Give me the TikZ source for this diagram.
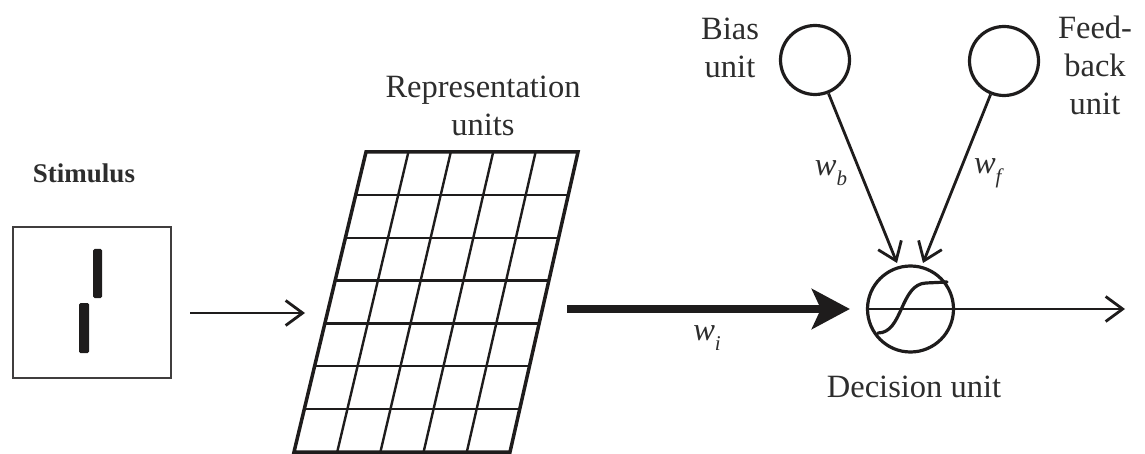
\documentclass[tikz,border=0pt]{standalone}
\usepackage{fontspec}
\setmainfont{Liberation Serif}
\usetikzlibrary{arrows.meta}
\definecolor{ink}{RGB}{30,28,28}
\definecolor{txt}{RGB}{45,45,45}
\newcommand\wsub[2]{\textit{#1}\raisebox{-0.32em}{\fontsize{21}{21}\selectfont\textit{#2}}}
\begin{document}
\begin{tikzpicture}[x=1pt,y=-1pt,
  lbl/.style={font=\fontsize{32.5}{38}\selectfont, text=txt, inner sep=0pt, align=center},
  unitc/.style={circle, draw=ink, line width=3.2pt, minimum size=69pt, inner sep=0pt},
  thinarrow/.style={draw=ink, line width=2.8pt, -{Straight Barb[length=17pt,width=25pt,line width=2.8pt]}},
  bigarrow/.style={draw=ink, line width=8.5pt, -{Stealth[length=38pt,width=40pt,inset=9pt]}},
  gridline/.style={draw=ink, line width=2.4pt},
]
\useasboundingbox (0,0) rectangle (1145,454);

% Stimulus
\node[lbl, font=\fontsize{27}{30}\selectfont\bfseries] (stimlbl) at (84,173) {Stimulus};
\node[draw=ink!85, line width=2.2pt, minimum width=158pt, minimum height=151pt, inner sep=0pt] (stim) at (92,302.5) {};
\fill[ink, rounded corners=1.5pt] (93,249) rectangle (102,298);
\fill[ink, rounded corners=1.5pt] (79,303) rectangle (89,353);

% Representation grid
\foreach \i in {1,...,4} {
  \draw[gridline] ({366+\i*212/5},152) -- ({294+\i*216/5},452);
}
\foreach \j in {1,...,6} {
  \draw[gridline] ({366-72*\j/7},{152+300*\j/7}) -- ({578-68*\j/7},{152+300*\j/7});
}
\draw[draw=ink, line width=3.5pt, line join=miter] (366,152) -- (578,152) -- (510,452) -- (294,452) -- cycle;
\node[lbl] (replbl) at (483,106) {Representation\\units};

\coordinate (gridin) at (305,313);
\coordinate (gridout) at (567,309);

% Decision unit
\node[circle, draw=ink, line width=3.2pt, minimum size=86pt, inner sep=0pt] (dec) at (910.5,309) {};
\draw[ink, line width=1.8pt] (dec.west) -- (dec.east);
\draw[ink, line width=3.2pt, line cap=round] (878,333) .. controls (903,333) and (900,284) .. (926,283) -- (947,282);
\node[lbl] (declbl) at (914,387) {Decision unit};

% Bias and feedback units
\node[unitc] (bias) at (815,60) {};
\node[unitc] (fb) at (1004,61) {};
\node[lbl] (biaslbl) at (730,47.5) {Bias\\unit};
\node[lbl] (fblbl) at (1095,65) {Feed-\\back\\unit};

\coordinate (tb) at (897,263);
\coordinate (tf) at (923,263);
\coordinate (out) at (1125,309);

% Connectors
\draw[thinarrow] ([xshift=18pt]stim.east |- gridin) -- (gridin);
\draw[bigarrow] (gridout) -- ([xshift=-16pt]dec.west);
\draw[thinarrow] (dec.east) -- (out);
\draw[thinarrow] (bias) -- (tb);
\draw[thinarrow] (fb) -- (tf);

% Weight labels
\node[lbl] (wb) at (831,173) {\wsub{w}{b}};
\node[lbl] (wf) at (989,173) {\wsub{w}{f}};
\node[lbl] (wi) at (707,338) {\wsub{w}{i}};
\end{tikzpicture}
\end{document}
